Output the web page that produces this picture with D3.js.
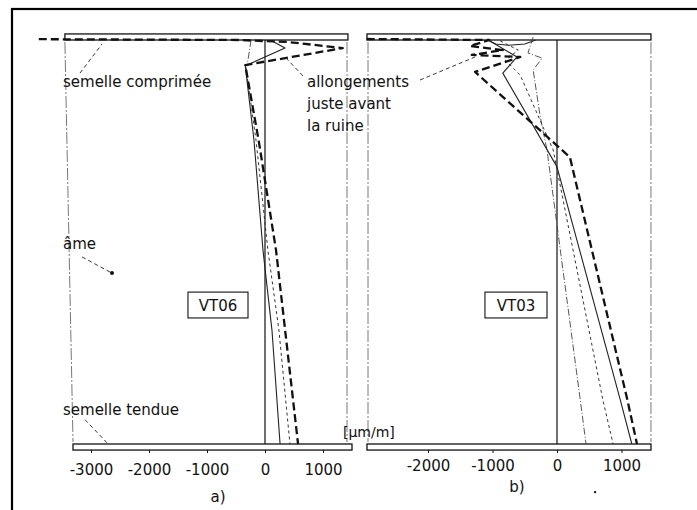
<!DOCTYPE html>
<html>
<head>
<meta charset="utf-8">
<title>VT06 / VT03</title>
<script src="https://d3js.org/d3.v7.min.js"></script>
<style>
    body { margin: 0; background: #fff; }
    text { font-family: "DejaVu Sans", sans-serif; fill: #111; }
    .lbl { font-size: 15px; }
    .axis text { font-size: 15px; }
    .axis line { stroke: #111; }
    .axis path { display: none; }
</style>
</head>
<body>
<div id="vis"></div>
<script>
    // ---- data: depth (0 = top flange, 100 = bottom flange) and strain [µm/m]
    // panel a) VT06
    var aHeavyDepth  = [-0.2, 0, 0.5, 2, 6.2, 24.8, 52, 100];
    var aHeavyStrain = [-3900, -450, 400, 1340, -340, -110, 190, 570];
    var aSolidDepth  = [0.25, 2, 6.4, 24.8, 52, 71.8, 100];
    var aSolidStrain = [120, 345, -340, -190, -35, 120, 260];
    var aDotDepth    = [6.7, 24.8, 52, 71.8, 100];
    var aDotStrain   = [-330, -155, 50, 240, 430];
    var aDashDotDepth  = [0, 6.5];
    var aDashDotStrain = [-240, -310];

    // panel b) VT03
    var bHeavyDepth  = [-0.25, 0, 1.5, 2.5, 3.7, 4.2, 7.9, 29, 89, 100];
    var bHeavyStrain = [-2950, -1050, -1350, -840, -1320, -570, -1270, 200, 1090, 1240];
    var bSolidDepth  = [0.25, 4.2, 8.2, 31.4, 89, 100];
    var bSolidStrain = [-1040, -620, -840, 0, 980, 1160];
    var bDotDepth    = [0.25, 2.5, 5, 8.7, 27.2, 89, 100];
    var bDotStrain   = [-880, -600, -800, -570, -60, 710, 870];
    var bDashDotDepth  = [-0.7, 3.2, 4.5, 7.4, 19, 27.2, 89, 100];
    var bDashDotStrain = [-370, -450, -230, -370, -260, -155, 360, 450];
    var bBulgeDepth  = [0, 1.0, 1.3, 1.0, 0];
    var bBulgeStrain = [-1080, -950, -750, -500, -330];

    // section outline (strain extent of flanges / web)
    var aTopFlange = [-3450, 1430], aBotFlange = [-3310, 1500];
    var aWebLeft = [-3450, -3310], aWebRight = [1414, 1414];
    var bTopFlange = [-2946, 1457], bBotFlange = [-2946, 1457];
    var bWebLeft = [-2930, -2930], bWebRight = [1457, 1457];

    var ticksA = [-3000, -2000, -1000, 0, 1000];
    var ticksB = [-2000, -1000, 0, 1000];

    var width = 697, height = 510;

    var svg = d3.select("#vis").append("svg")
        .attr("width", width)
        .attr("height", height);

    // outer frame of the scan
    svg.append("rect")
        .attr("x", 12).attr("y", 9)
        .attr("width", 720).attr("height", 540)
        .attr("fill", "none").attr("stroke", "#000").attr("stroke-width", 2.2);

    var y = d3.scaleLinear().domain([0, 100]).range([40, 444]);
    var xa = d3.scaleLinear().domain([-3000, 1000]).range([91, 323]);
    var xb = d3.scaleLinear().domain([-2000, 1000]).range([428, 621.5]);

    function pts(strain, depth) {
        return strain.map(function(s, i) { return [s, depth[i]]; });
    }

    var styles = {
        heavy:   {w: 2.3, dash: "8,4", col: "#111"},
        solid:   {w: 1.1, dash: null, col: "#222"},
        dot:     {w: 1.0, dash: "3,3", col: "#333"},
        dashdot: {w: 0.9, dash: "7,2,1,2", col: "#444"}
    };

    function drawPanel(x, topF, botF, webL, webR, series, ticks, tickPad) {
        var g = svg.append("g");
        var line = d3.line().x(function(d) { return x(d[0]); }).y(function(d) { return y(d[1]); });

        // web outlines
        [webL, webR].forEach(function(w) {
            g.append("path")
                .attr("d", line([[w[0], 0.5], [w[1], 99.5]]))
                .attr("fill", "none").attr("stroke", "#555")
                .attr("stroke-width", 0.8).attr("stroke-dasharray", "12,2,2,2");
        });

        // flanges
        [[topF, -1.5, 0], [botF, 100, 101.5]].forEach(function(f) {
            g.append("rect")
                .attr("x", x(f[0][0])).attr("y", y(f[1]))
                .attr("width", x(f[0][1]) - x(f[0][0]))
                .attr("height", y(f[2]) - y(f[1]))
                .attr("fill", "#fff").attr("stroke", "#111").attr("stroke-width", 1.3);
        });

        // zero line
        g.append("line")
            .attr("x1", x(0)).attr("x2", x(0))
            .attr("y1", y(0)).attr("y2", y(100))
            .attr("stroke", "#111").attr("stroke-width", 1.2);

        series.forEach(function(s) {
            var st = styles[s.style];
            g.append("path")
                .attr("d", line(s.data))
                .attr("fill", "none")
                .attr("stroke", st.col)
                .attr("stroke-width", st.w)
                .attr("stroke-dasharray", st.dash)
                .attr("stroke-linejoin", "round");
        });

        g.append("g")
            .attr("class", "axis")
            .attr("transform", "translate(0," + y(101.5) + ")")
            .call(d3.axisBottom(x).tickValues(ticks).tickSize(3).tickPadding(tickPad)
                .tickFormat(function(d) { return String(d); }));
        return g;
    }

    var ga = drawPanel(xa, aTopFlange, aBotFlange, aWebLeft, aWebRight, [
        {style: "dashdot", data: pts(aDashDotStrain, aDashDotDepth)},
        {style: "dot", data: pts(aDotStrain, aDotDepth)},
        {style: "solid", data: pts(aSolidStrain, aSolidDepth)},
        {style: "heavy", data: pts(aHeavyStrain, aHeavyDepth)}
    ], ticksA, 11);

    var gb = drawPanel(xb, bTopFlange, bBotFlange, bWebLeft, bWebRight, [
        {style: "solid", data: pts(bBulgeStrain, bBulgeDepth)},
        {style: "dashdot", data: pts(bDashDotStrain, bDashDotDepth)},
        {style: "dot", data: pts(bDotStrain, bDotDepth)},
        {style: "solid", data: pts(bSolidStrain, bSolidDepth)},
        {style: "heavy", data: pts(bHeavyStrain, bHeavyDepth)}
    ], ticksB, 7);

    // ---- annotations (placed in data coordinates of each panel)
    function leader(x, p0, p1, dot) {
        svg.append("line")
            .attr("x1", x(p0[0])).attr("y1", y(p0[1]))
            .attr("x2", x(p1[0])).attr("y2", y(p1[1]))
            .attr("stroke", "#222").attr("stroke-width", 0.9)
            .attr("stroke-dasharray", "4,3");
        if (dot) {
            svg.append("circle").attr("cx", x(p1[0])).attr("cy", y(p1[1]))
                .attr("r", 2).attr("fill", "#111");
        }
    }
    function label(x, s, d, txt, anchor, size) {
        svg.append("text").attr("class", "lbl")
            .attr("x", x(s)).attr("y", y(d))
            .attr("text-anchor", anchor || "start")
            .style("font-size", (size || 15) + "px")
            .text(txt);
    }

    label(xa, -3483, 11.6, "semelle comprimée");
    leader(xa, [-3190, 8.2], [-2810, 1.0]);
    label(xa, -3483, 51.8, "âme");
    leader(xa, [-3155, 53.7], [-2638, 57.7], true);
    label(xa, -3483, 92.8, "semelle tendue");
    leader(xa, [-3103, 94], [-2724, 99.7]);

    label(xa, 724, 11.6, "allongements");
    label(xa, 724, 17.0, "juste avant");
    label(xa, 724, 22.6, "la ruine");
    leader(xa, [655, 8.9], [345, 4.2]);
    leader(xb, [-2124, 9.9], [-1271, 4.2]);

    label(xa, 1345, 98.3, "[µm/m]", "start", 14);

    // specimen boxes
    [[xa, -1328, -293, "VT06"], [xb, -1117, -155, "VT03"]].forEach(function(b) {
        var x = b[0];
        svg.append("rect")
            .attr("x", x(b[1])).attr("y", y(62.4))
            .attr("width", x(b[2]) - x(b[1])).attr("height", y(68.8) - y(62.4))
            .attr("fill", "#fff").attr("stroke", "#111").attr("stroke-width", 1.1);
        svg.append("text").attr("class", "lbl")
            .attr("x", (x(b[1]) + x(b[2])) / 2).attr("y", y(65.6) + 6)
            .attr("text-anchor", "middle")
            .text(b[3]);
    });

    label(xa, -810, 114.3, "a)", "middle");
    label(xb, -620, 112, "b)", "middle");
    svg.append("circle").attr("cx", xb(590)).attr("cy", y(111.9)).attr("r", 1.2).attr("fill", "#111");
</script>
</body>
</html>
